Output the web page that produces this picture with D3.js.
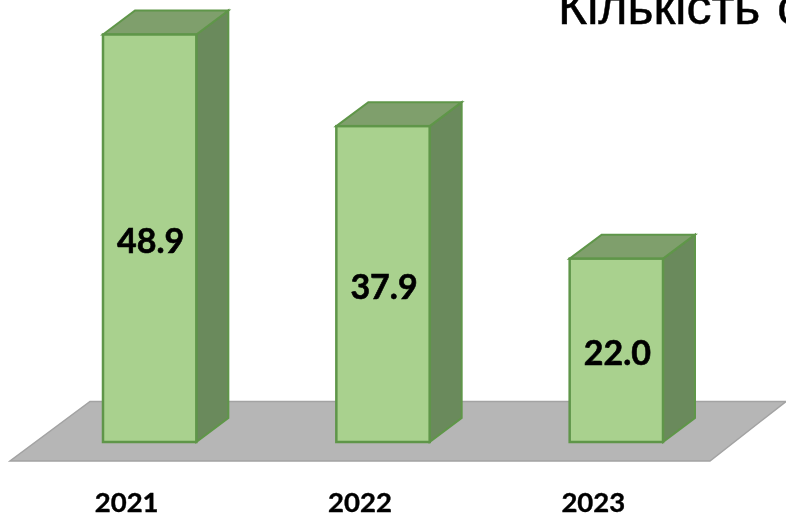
<!DOCTYPE html>
<html>
<head>
<meta charset="utf-8">
<script src="https://cdn.jsdelivr.net/npm/d3@7"></script>
<style>
  html, body { margin: 0; padding: 0; background: #fff; overflow: hidden; }
</style>
</head>
<body>
<div id="chart"></div>
<script>
var years = ["2021", "2022", "2023"];
var values = [48.9, 37.9, 22.0];
var titleText = "Кількість с";

var width = 786, height = 515;
var depthX = 32, depthY = 24; // oblique offset of the 3d boxes

var svg = d3.select("#chart").append("svg")
    .attr("width", width)
    .attr("height", height)
    .style("display", "block");

// the reference is a slightly soft screenshot
svg.append("defs").append("filter")
    .attr("id", "soft")
    .attr("filterUnits", "userSpaceOnUse")
    .attr("x", 0).attr("y", 0)
    .attr("width", width).attr("height", height)
    .append("feGaussianBlur")
    .attr("stdDeviation", 0.45);

var root = svg.append("g").attr("filter", "url(#soft)");

var x = d3.scaleBand()
    .domain(years)
    .range([103, 663])
    .paddingInner(0.6)
    .paddingOuter(0);

var y = d3.scaleLinear()
    .domain([0, 48.9])
    .range([442, 34.5]);

// grey floor under the bars
var floorLine = d3.line();
root.append("path")
    .attr("d", floorLine([[10, 461], [710, 461], [786, 401.5], [90, 401.5]]) + "Z")
    .attr("fill", "#b6b6b6")
    .attr("stroke", "#a3a3a3")
    .attr("stroke-width", 1.5);

var edge = "#5f9649";
var bars = root.append("g").selectAll("g")
    .data(years)
    .enter().append("g");

// right side
bars.append("path")
    .attr("d", function (d, i) {
        var r = x(d) + x.bandwidth(), t = y(values[i]), b = y(0);
        return floorLine([[r, t], [r + depthX, t - depthY], [r + depthX, b - depthY], [r, b]]) + "Z";
    })
    .attr("fill", "#6a8a5b")
    .attr("stroke", edge)
    .attr("stroke-width", 2);

// top
bars.append("path")
    .attr("d", function (d, i) {
        var l = x(d), r = l + x.bandwidth(), t = y(values[i]);
        return floorLine([[l, t], [l + depthX, t - depthY], [r + depthX, t - depthY], [r, t]]) + "Z";
    })
    .attr("fill", "#7f9f6c")
    .attr("stroke", edge)
    .attr("stroke-width", 2);

// front
bars.append("rect")
    .attr("x", function (d) { return x(d); })
    .attr("y", function (d, i) { return y(values[i]); })
    .attr("width", x.bandwidth())
    .attr("height", function (d, i) { return y(0) - y(values[i]); })
    .attr("fill", "#a9d18e")
    .attr("stroke", edge)
    .attr("stroke-width", 2.5);

// value labels
bars.append("text")
    .attr("x", function (d) { return x(d) + x.bandwidth() / 2 + 1; })
    .attr("y", function (d, i) { return (y(values[i]) + y(0)) / 2 + 15; })
    .attr("text-anchor", "middle")
    .style("font-family", "Lato, sans-serif")
    .style("font-weight", "700")
    .style("font-size", "34px")
    .attr("fill", "#000")
    .attr("stroke", "#000")
    .attr("stroke-width", 0.6)
    .text(function (d, i) { return values[i].toFixed(1); });

// year labels
root.append("g").selectAll("text")
    .data(years)
    .enter().append("text")
    .attr("x", function (d) { return x(d) + x.bandwidth() / 2 - 23; })
    .attr("y", 512)
    .attr("text-anchor", "middle")
    .style("font-family", "Lato, sans-serif")
    .style("font-weight", "700")
    .style("font-size", "27.5px")
    .attr("fill", "#000")
    .attr("stroke", "#000")
    .attr("stroke-width", 0.4)
    .text(function (d) { return d; });

// title, runs off the edge of the picture
root.append("text")
    .attr("x", 558)
    .attr("y", 24)
    .style("font-family", "'Liberation Sans', sans-serif")
    .style("font-size", "50px")
    .style("word-spacing", "3px")
    .attr("fill", "#000")
    .attr("stroke", "#000")
    .attr("stroke-width", 0.5)
    .text(titleText);
</script>
</body>
</html>
